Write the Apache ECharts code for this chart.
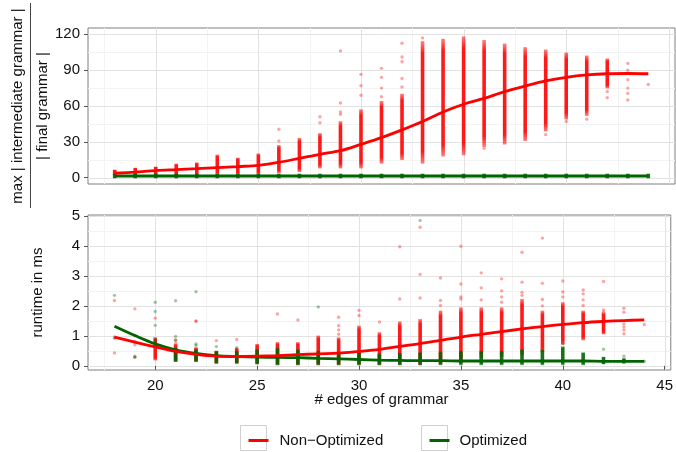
<!DOCTYPE html>
<html><head><meta charset="utf-8">
<script src="https://cdn.jsdelivr.net/npm/echarts@6/dist/echarts.min.js"></script>
<style>html,body{margin:0;padding:0;background:#fff}#c{width:676px;height:452px}</style>
</head><body><div id="c"></div>
<script>
// ---------- data ----------
const edges = [18,19,20,21,22,23,24,25,26,27,28,29,30,31,32,33,34,35,36,37,38,39,40,41,42,43,44];
const xTicks = [20,25,30,35,40,45];
const xMinor = [17.5,22.5,27.5,32.5,37.5,42.5];
const topTicks = [0,30,60,90,120];
const topMinor = [15,45,75,105];
const botTicks = [0,1,2,3,4,5];
const botMinor = [0.5,1.5,2.5,3.5,4.5];

// top panel: max |intermediate grammar| / |final grammar|
const topRedLo = [3,3,3,3,3,4,4,4,5,6,9,9,9,13,16,13,19,20,27,29,32,40,50,53,76,null,null];
const topRedHi = [5.5,7,8,10.5,11.5,18,15.5,19,26,32,36,46,56,63,69,113,115,117,114,111,108,106,103.5,101,98.5,null,null];
const topRedPts = [[26,40.5],[26,30.7],[28,51],[28,46],[29,106],[29,62.5],[29,55],[29,53],[30,86.5],[30,77],[30,69],
  [31,91.5],[31,84],[31,75],[31,67.8],[32,112.5],[32,101],[32,97],[32,83],[32,76],[33,117],[36,24.6],[39,36],[40,47],
  [41,49],[42,72],[42,67],[43,95.7],[43,90],[43,82],[43,75],[43,70.6],[43,65],[44,78]];
const topGreenLo = [0.6,0.6,0.6,0.6,0.6,0.6,0.6,0.6,0.6,0.6,0.6,0.6,0.6,0.6,0.6,0.6,0.6,0.6,0.6,0.6,0.6,0.6,0.6,0.6,0.6,0.6,0.6];
const topGreenHi = [2.2,2.2,2.2,2.2,2.2,2.2,2.2,2.2,2.2,2.2,2.2,2.2,2.2,2.2,2.2,2.2,2.2,2.2,2.2,2.2,2.2,2.2,2.2,2.2,2.2,2.2,2.2];
const topRedFit = [3.7,4.7,5.9,6.7,7.5,8.4,9.3,10.3,12.9,16.2,19.6,22.6,27.9,33.5,40,47,55,61.5,66.4,72,76.7,81,84,86,87,87.2,87];
const topGreenFit = [1.4,1.4,1.4,1.4,1.4,1.4,1.4,1.4,1.4,1.4,1.4,1.4,1.4,1.4,1.4,1.4,1.4,1.4,1.4,1.4,1.4,1.4,1.4,1.4,1.4,1.4,1.4];

// bottom panel: runtime in ms
const botRedLo = [null,null,0.23,0.18,0.18,0.12,0.12,0.1,0.07,0.07,0.07,0.07,0.07,0.07,0.07,0.07,0.1,0.15,0.3,0.35,0.4,0.5,0.75,0.9,1.1,null,null];
const botRedHi = [null,null,0.9,0.68,0.57,0.45,0.55,0.68,0.74,0.74,0.96,0.9,1.29,1.07,1.43,1.51,1.79,1.9,1.9,1.9,2.18,1.79,2.07,1.79,1.73,null,null];
const botRedPts = [[18,2.18],[18,0.96],[18,0.43],[19,1.9],[19,0.81],[19,0.7],[19,0.28],[20,1.59],[21,0.86],[21,0.75],
  [22,1.48],[22,1.5],[23,0.84],[24,0.88],[26,1.73],[27,1.53],[29,1.62],[29,1.34],[29,1.2],[29,1.05],[30,1.85],[30,1.68],
  [31,1.46],[32,3.97],[32,2.23],[33,4.62],[33,3.05],[33,2.26],[34,2.93],[34,2.18],[34,2.01],[35,3.99],[35,2.73],[35,2.3],
  [35,2.23],[36,3.1],[36,2.6],[36,2.2],[37,2.9],[37,2.5],[37,2.3],[37,2.12],[38,3.79],[38,2.79],[38,2.45],[38,2.35],
  [39,4.26],[39,2.75],[39,2.21],[39,2.0],[40,2.83],[40,2.46],[40,2.3],[41,2.53],[41,2.4],[41,2.2],[41,2.01],[42,2.81],
  [42,1.86],[42,1.79],[43,1.92],[43,1.79],[43,1.4],[43,1.3],[43,1.2],[43,1.07],[44,1.38]];
const botGreenLo = [null,null,null,0.18,0.18,0.12,0.12,0.1,0.07,0.07,0.07,0.07,0.07,0.07,0.07,0.07,0.07,0.07,0.07,0.07,0.07,0.07,0.07,0.07,0.1,0.12,null];
const botGreenHi = [null,null,null,0.55,0.5,0.45,0.45,0.5,0.55,0.5,0.45,0.4,0.4,0.35,0.38,0.4,0.42,0.45,0.45,0.45,0.5,0.5,0.6,0.4,0.25,0.2,null];
const botGreenPts = [[18,2.35],[18,0.92],[19,1.0],[19,0.32],[19,0.29],[20,2.12],[20,1.81],[20,1.35],[20,0.89],[20,0.8],
  [21,2.17],[21,0.98],[21,0.85],[22,2.47],[22,0.73],[22,0.68],[23,0.64],[24,0.6],[28,1.96],[33,4.85],[40,0.75],
  [42,0.55],[43,0.32],[43,0.2],[44,0.15]];
const botRedFit = [0.96,0.79,0.63,0.48,0.38,0.32,0.31,0.32,0.34,0.37,0.4,0.42,0.48,0.55,0.65,0.74,0.85,0.96,1.05,1.14,1.23,1.31,1.38,1.44,1.48,1.51,1.53];
const botGreenFit = [1.32,1.01,0.73,0.53,0.41,0.34,0.31,0.29,0.28,0.27,0.25,0.23,0.21,0.19,0.18,0.17,0.17,0.16,0.16,0.16,0.16,0.16,0.16,0.16,0.15,0.15,0.15];

// ---------- styling ----------
const FONT = '"Liberation Sans", Arial, Helvetica, sans-serif';
const RED = '#FF0000', GREEN = '#006400';
const MAJOR = '#E2E2E2', MINOR = '#F3F3F3';

function ranges(lo, hi) { return edges.map((x,i) => lo[i] == null ? null : [x, lo[i], hi[i]]).filter(Boolean); }
function pairs(v) { return edges.map((x,i) => [x, v[i]]); }

function colGradient(rgb) {
  return new echarts.graphic.LinearGradient(0,0,0,1,[
    {offset:0, color:'rgba(' + rgb + ',0.5)'},
    {offset:0.1, color:'rgba(' + rgb + ',0.9)'},
    {offset:0.9, color:'rgba(' + rgb + ',0.9)'},
    {offset:1, color:'rgba(' + rgb + ',0.5)'}]);
}
function rangeSeries(name, gi, data, rgb, z) {
  return { name, type:'custom', xAxisIndex:gi, yAxisIndex:gi, data, z, silent:true,
    encode:{x:0, y:[1,2]},
    renderItem(params, api) {
      const x = api.value(0), lo = api.value(1), hi = api.value(2);
      const a = api.coord([x, hi]), b = api.coord([x, lo]);
      return {type:'rect', shape:{x:a[0]-1.8, y:a[1]-1.5, width:3.6, height:b[1]-a[1]+3},
        style:{fill: colGradient(rgb)}};
    }};
}
function pointSeries(name, gi, data, color, z) {
  return { name, type:'scatter', xAxisIndex:gi, yAxisIndex:gi, data, z, silent:true,
    symbol:'circle', symbolSize:3.4, itemStyle:{color} };
}
function fitSeries(name, gi, vals, color, z) {
  return { name, type:'line', xAxisIndex:gi, yAxisIndex:gi, data:pairs(vals), z, silent:true,
    smooth:0.35, showSymbol:false, symbol:'none', color, lineStyle:{color, width:2.8} };
}
function gridLines(gi, dim, vals, color, refOther) {
  return { type:'custom', xAxisIndex:gi, yAxisIndex:gi, silent:true, z:0,
    data: vals.map(v => dim === 'x' ? [v, refOther] : [refOther, v]),
    renderItem(params, api) {
      const cs = params.coordSys;
      const p = api.coord([api.value(0), api.value(1)]);
      if (dim === 'x') {
        const xx = Math.round(p[0]) + 0.5;
        return {type:'line', shape:{x1:xx, y1:cs.y, x2:xx, y2:cs.y+cs.height}, style:{stroke:color, lineWidth:1}};
      }
      const yy = Math.round(p[1]) + 0.5;
      return {type:'line', shape:{x1:cs.x, y1:yy, x2:cs.x+cs.width, y2:yy}, style:{stroke:color, lineWidth:1}};
    }};
}

const labelStyle = {fontFamily:FONT, fontSize:15, color:'#111'};
const tickStyle = {lineStyle:{color:'#555', width:1}, length:4};

const option = {
  animation:false,
  backgroundColor:'#fff',
  grid:[
    {left:88, top:28, width:587, height:156, show:true, borderColor:'#7F7F7F', borderWidth:1, backgroundColor:'#fff'},
    {left:88, top:215, width:587, height:155, show:true, borderColor:'#7F7F7F', borderWidth:1, backgroundColor:'#fff'}
  ],
  xAxis:[
    {type:'value', gridIndex:0, min:16.7, max:45.3, axisLine:{show:false}, axisTick:{show:false},
     axisLabel:{show:false}, splitLine:{show:false}},
    {type:'value', gridIndex:1, min:16.7, max:45.3, axisLine:{show:false},
     axisTick:Object.assign({show:true, customValues:xTicks}, tickStyle),
     axisLabel:Object.assign({show:true, customValues:xTicks, margin:8}, labelStyle),
     splitLine:{show:false}}
  ],
  yAxis:[
    {type:'value', gridIndex:0, min:-5.3, max:125.3, axisLine:{show:false},
     axisTick:Object.assign({show:true, customValues:topTicks}, tickStyle),
     axisLabel:Object.assign({show:true, customValues:topTicks, margin:8}, labelStyle),
     splitLine:{show:false}},
    {type:'value', gridIndex:1, min:-0.14, max:5.03, axisLine:{show:false},
     axisTick:Object.assign({show:true, customValues:botTicks}, tickStyle),
     axisLabel:Object.assign({show:true, customValues:botTicks, margin:8}, labelStyle),
     splitLine:{show:false}}
  ],
  legend:[
    {left:243.5, top:428, data:[{name:'Non\u2212Optimized', icon:'rect'}], itemWidth:20, itemHeight:3,
     selectedMode:false, textStyle:{fontFamily:FONT, fontSize:15, color:'#111', padding:[0,0,0,6]}},
    {left:424.5, top:428, data:[{name:'Optimized', icon:'rect'}], itemWidth:20, itemHeight:3,
     selectedMode:false, textStyle:{fontFamily:FONT, fontSize:15, color:'#111', padding:[0,0,0,5]}}
  ],
  graphic:[
    {type:'text', x:18, y:106, rotation:Math.PI/2, silent:true,
     style:{text:'max | intermediate grammar |', font:'15px ' + FONT, fill:'#111', textAlign:'center', textVerticalAlign:'middle'}},
    {type:'line', silent:true, shape:{x1:30.5, y1:3, x2:30.5, y2:208}, style:{stroke:'#444', lineWidth:1}},
    {type:'text', x:43, y:106, rotation:Math.PI/2, silent:true,
     style:{text:'| final grammar |', font:'15px ' + FONT, fill:'#111', textAlign:'center', textVerticalAlign:'middle'}},
    {type:'text', x:38, y:292.5, rotation:Math.PI/2, silent:true,
     style:{text:'runtime in ms', font:'15px ' + FONT, fill:'#111', textAlign:'center', textVerticalAlign:'middle'}},
    {type:'text', x:381.5, y:400, silent:true,
     style:{text:'# edges of grammar', font:'15px ' + FONT, fill:'#111', textAlign:'center', textVerticalAlign:'middle'}},
    {type:'rect', silent:true, shape:{x:240.5, y:425.5, width:26, height:25}, style:{fill:'#fff', stroke:'#D0D0D0', lineWidth:1}, z:-1},
    {type:'rect', silent:true, shape:{x:421.5, y:425.5, width:26, height:25}, style:{fill:'#fff', stroke:'#D0D0D0', lineWidth:1}, z:-1}
  ],
  series:[
    gridLines(0, 'x', xMinor, MINOR, 0), gridLines(0, 'y', topMinor, MINOR, 20),
    gridLines(0, 'x', xTicks, MAJOR, 0), gridLines(0, 'y', topTicks, MAJOR, 20),
    gridLines(1, 'x', xMinor, MINOR, 0), gridLines(1, 'y', botMinor, MINOR, 20),
    gridLines(1, 'x', xTicks, MAJOR, 0), gridLines(1, 'y', botTicks, MAJOR, 20),

    rangeSeries('top red cols', 0, ranges(topRedLo, topRedHi), '255,0,0', 2),
    pointSeries('top red pts', 0, topRedPts, 'rgba(255,0,0,0.45)', 2),
    rangeSeries('top green cols', 0, ranges(topGreenLo, topGreenHi), '0,100,0', 3),
    rangeSeries('bot red cols', 1, ranges(botRedLo, botRedHi), '255,0,0', 2),
    pointSeries('bot red pts', 1, botRedPts, 'rgba(255,0,0,0.45)', 2),
    rangeSeries('bot green cols', 1, ranges(botGreenLo, botGreenHi), '0,100,0', 3),
    pointSeries('bot green pts', 1, botGreenPts, 'rgba(0,100,0,0.45)', 3),

    fitSeries('Optimized', 0, topGreenFit, GREEN, 5),
    fitSeries('Non\u2212Optimized', 0, topRedFit, RED, 6),
    fitSeries('Optimized', 1, botGreenFit, GREEN, 5),
    fitSeries('Non\u2212Optimized', 1, botRedFit, RED, 6)
  ]
};
const chart = echarts.init(document.getElementById('c'), null, {renderer:'canvas'});
chart.setOption(option);
</script>
</body></html>
